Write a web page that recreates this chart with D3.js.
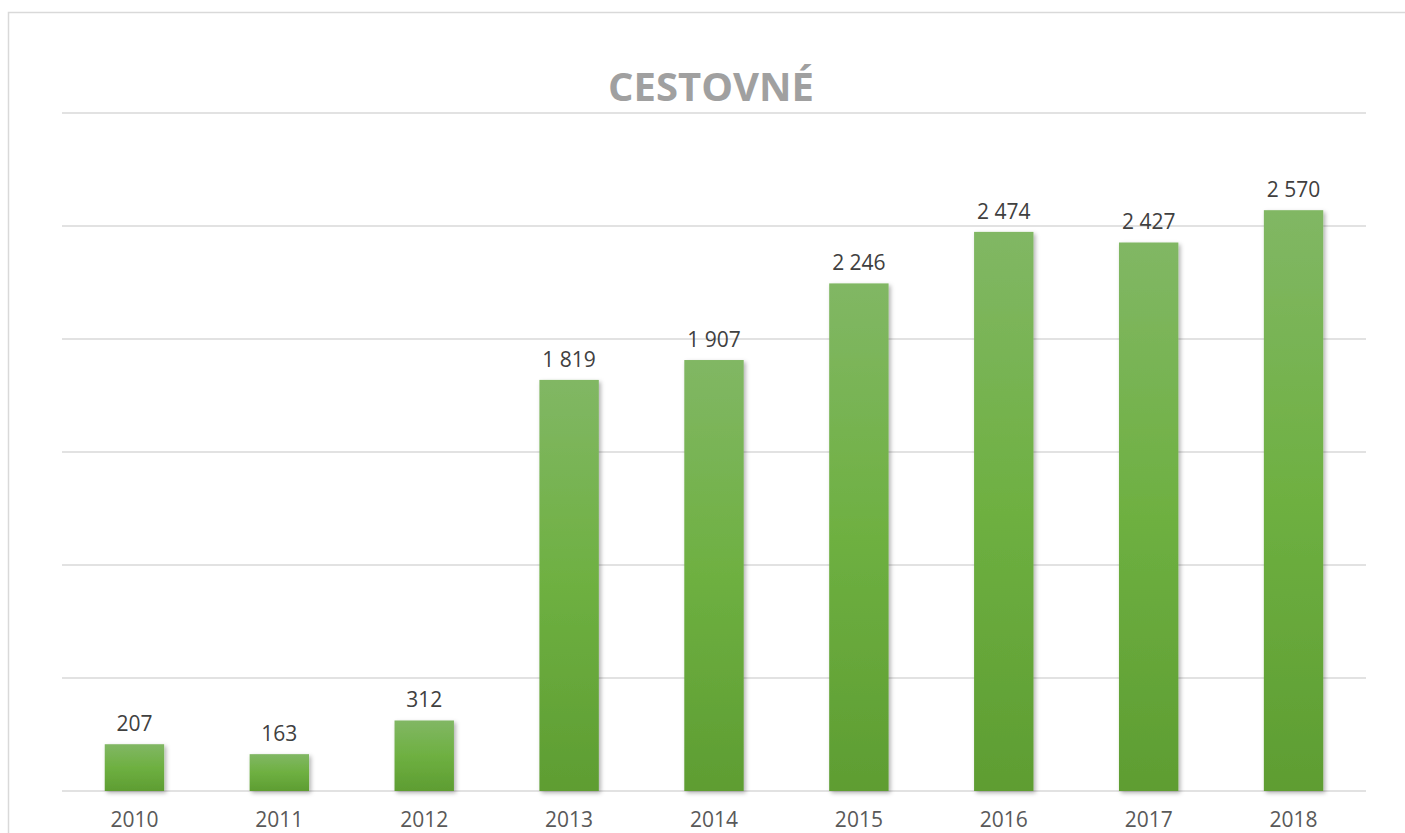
<!DOCTYPE html>
<html>
<head>
<meta charset="utf-8">
<script src="https://cdn.jsdelivr.net/npm/d3@7"></script>
<style>
  body { margin: 0; background: #fff; }
  svg { display: block; }
</style>
</head>
<body>
<div id="chart"></div>
<script>
// data
var years = ['2010', '2011', '2012', '2013', '2014', '2015', '2016', '2017', '2018'];
var values = [207, 163, 312, 1819, 1907, 2246, 2474, 2427, 2570];
var gridTicks = [0, 500, 1000, 1500, 2000, 2500, 3000];
var title = 'CESTOVNÉ';

var W = 1405, H = 833;
var margin = { top: 113, right: 39, bottom: 42, left: 62 };
var width = W - margin.left - margin.right;
var height = H - margin.top - margin.bottom;

var svg = d3.select('#chart')
    .append('svg')
    .attr('width', W)
    .attr('height', H);

// chart area border
svg.append('rect')
    .attr('x', 8.5)
    .attr('y', 12.5)
    .attr('width', W)
    .attr('height', H)
    .attr('fill', 'none')
    .attr('stroke', '#d9d9d9')
    .attr('stroke-width', 1.5);

var defs = svg.append('defs');
var grad = defs.append('linearGradient')
    .attr('id', 'barGrad')
    .attr('x1', 0).attr('y1', 0).attr('x2', 0).attr('y2', 1);
grad.append('stop').attr('offset', '0%').attr('stop-color', '#81b764');
grad.append('stop').attr('offset', '50%').attr('stop-color', '#6eb041');
grad.append('stop').attr('offset', '100%').attr('stop-color', '#5e9d32');

var shadow = defs.append('filter')
    .attr('id', 'shadow')
    .attr('x', '-20%').attr('y', '-20%').attr('width', '140%').attr('height', '140%');
shadow.append('feDropShadow')
    .attr('dx', 2).attr('dy', 2)
    .attr('stdDeviation', 2)
    .attr('flood-color', '#000')
    .attr('flood-opacity', 0.3);

// title
svg.append('text')
    .attr('x', 711)
    .attr('y', 101)
    .attr('text-anchor', 'middle')
    .style('font-family', 'Open Sans, sans-serif')
    .style('font-weight', 'bold')
    .style('font-size', '40px')
    .style('fill', '#a0a0a0')
    .text(title);

var g = svg.append('g')
    .attr('transform', 'translate(' + margin.left + ',' + margin.top + ')');

// scales
var x = d3.scaleBand().domain(years).range([0, width]).paddingInner(0.59).paddingOuter(0.295);
var y = d3.scaleLinear().domain([0, 3000]).range([height, 0]);

// gridlines
g.selectAll('.grid')
    .data(gridTicks)
    .enter()
    .append('line')
    .attr('class', 'grid')
    .attr('x1', 0)
    .attr('x2', width)
    .attr('y1', function (d) { return y(d); })
    .attr('y2', function (d) { return y(d); })
    .attr('stroke', '#d9d9d9')
    .attr('stroke-width', 1.5);

// bars
g.selectAll('.bar')
    .data(values)
    .enter()
    .append('rect')
    .attr('class', 'bar')
    .attr('x', function (d, i) { return x(years[i]); })
    .attr('width', x.bandwidth())
    .attr('y', function (d) { return y(d); })
    .attr('height', function (d) { return height - y(d); })
    .attr('fill', 'url(#barGrad)')
    .attr('filter', 'url(#shadow)');

// data labels
var fmt = function (v) { return d3.format(',')(v).replace(/,/g, ' '); };
g.selectAll('.lbl')
    .data(values)
    .enter()
    .append('text')
    .attr('class', 'lbl')
    .attr('x', function (d, i) { return x(years[i]) + x.bandwidth() / 2; })
    .attr('y', function (d) { return y(d) - 13; })
    .attr('text-anchor', 'middle')
    .style('font-family', 'Open Sans, sans-serif')
    .style('font-size', '21px')
    .style('fill', '#404040')
    .text(fmt);

// x axis labels
var xAxis = d3.axisBottom(x).tickSize(0).tickPadding(21);
var ax = g.append('g')
    .attr('transform', 'translate(0,' + height + ')')
    .call(xAxis);
ax.select('.domain').remove();
ax.selectAll('text')
    .style('font-family', 'Open Sans, sans-serif')
    .style('font-size', '21px')
    .style('fill', '#595959');
</script>
</body>
</html>
